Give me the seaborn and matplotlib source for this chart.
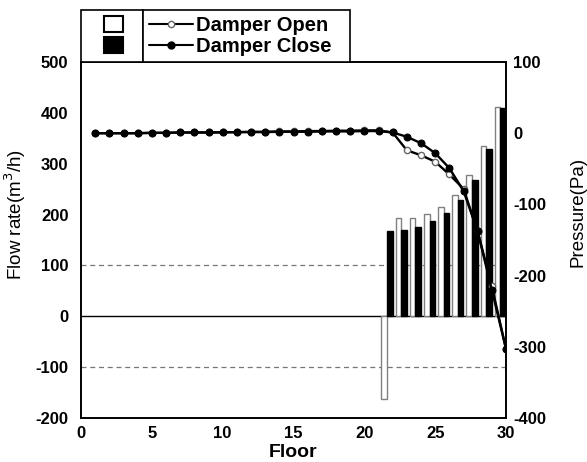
import numpy as np
import pandas as pd
import seaborn as sns
import matplotlib.pyplot as plt
from matplotlib.patches import Patch
from matplotlib.lines import Line2D

# pressure along all floors (right axis)
floors = list(range(1, 31))
p_open = [0, 0, 0, 0, 0.5, 0.5, 1, 1, 1, 1.5, 1.5, 2, 2, 2.5, 2.5, 3, 3, 3.5, 3.5, 4, 4,
          1, -24, -31, -40, -58, -78, -138, -215, -303]
p_close = [0, 0, 0, 0, 0.5, 0.5, 1, 1, 1, 1, 1.5, 1.5, 1.5, 2, 2, 2, 2.5, 2.5, 2.5, 3, 3,
           1, -5, -14, -28, -49, -81, -138, -220, -303]

# flow rate on upper floors (left axis)
bar_floors = [22, 23, 24, 25, 26, 27, 28, 29, 30]
q_open = [-163, 193, 193, 201, 215, 238, 278, 335, 412]
q_close = [167, 170, 176, 187, 203, 229, 268, 329, 410]

sns.set_style("white")
plt.rcParams['font.family'] = ['Liberation Sans', 'DejaVu Sans']
plt.rcParams['axes.unicode_minus'] = False
plt.rcParams.update({'text.color': 'black', 'axes.labelcolor': 'black',
                     'xtick.color': 'black', 'ytick.color': 'black'})

bars = pd.DataFrame({
    'pos': [f - 0.4 for f in bar_floors] * 2,
    'flow': q_open + q_close,
    'damper': ['Open'] * len(bar_floors) + ['Close'] * len(bar_floors),
})

fig = plt.figure(figsize=(5.87, 4.62), dpi=100)
ax = fig.add_axes([81 / 587, 1 - 418 / 462, 425 / 587, 356 / 462])

ax.axhline(0, color='black', lw=1, zorder=1)
for yv in (100, -100):
    ax.axhline(yv, color='#777777', lw=0.9, ls=(0, (4, 3)), zorder=1)

sns.barplot(data=bars, x='pos', y='flow', hue='damper', hue_order=['Open', 'Close'],
            palette={'Open': 'white', 'Close': 'black'}, native_scale=True, dodge=True,
            width=0.8, errorbar=None, legend=False, ax=ax, zorder=2)
for cont, ec in zip(ax.containers, ['#808080', 'black']):
    for p in cont:
        p.set_edgecolor(ec)
        p.set_linewidth(1.0)

ax.set_xlim(0, 30)
ax.set_ylim(-200, 500)
ax.set_xticks(range(0, 31, 5))
ax.set_yticks(range(-200, 501, 100))
ax.tick_params(length=0, labelsize=12)
ax.tick_params(axis='y', pad=9)
ax.tick_params(axis='x', pad=6)
for lab in ax.get_xticklabels() + ax.get_yticklabels():
    lab.set_fontweight('bold')
ax.set_xlabel('Floor', fontsize=14, fontweight='bold', labelpad=2)
ax.set_ylabel('Flow rate(m$^3$/h)', fontsize=13.5)
ax.yaxis.set_label_coords(-0.125, 0.57)
for s in ax.spines.values():
    s.set_color('black')
    s.set_linewidth(1.2)

ax2 = ax.twinx()
sns.lineplot(x=floors, y=p_open, color='black', lw=1.7, marker='o', markersize=4.5,
             markerfacecolor='white', markeredgecolor='#666666', markeredgewidth=1, ax=ax2)
sns.lineplot(x=floors, y=p_close, color='black', lw=1.7, marker='o', markersize=5,
             markerfacecolor='black', markeredgecolor='black', ax=ax2)
ax2.set_ylim(-400, 100)
ax2.set_yticks(range(-400, 101, 100))
ax2.tick_params(length=0, labelsize=12, pad=5)
for lab in ax2.get_yticklabels():
    lab.set_fontweight('bold')
ax2.set_ylabel('Pressure(Pa)', fontsize=13.5)
ax2.yaxis.set_label_coords(1.15, 0.58)
for s in ax2.spines.values():
    s.set_color('black')
    s.set_linewidth(1.2)

# legend: bar swatches box + line entries box
top = 1 - 62 / 462
legend_kw = dict(loc='lower left', mode='expand', borderaxespad=0, handleheight=0.8,
                 labelspacing=0.1, borderpad=0.3, fancybox=False, edgecolor='black',
                 framealpha=1, prop={'size': 14.5, 'weight': 'bold'})
bar_handles = [Patch(facecolor='white', edgecolor='black', lw=1.5),
               Patch(facecolor='black', edgecolor='black', lw=1.5)]
leg1 = fig.legend(bar_handles, ['', ''], bbox_to_anchor=(81 / 587, top, 62 / 587, 0.05),
                  markerfirst=False, handletextpad=0.85, handlelength=0.95, **legend_kw)
leg1.get_frame().set_linewidth(1.2)
line_handles = [Line2D([], [], color='black', lw=1.5, marker='o', markersize=4.5,
                       markerfacecolor='white', markeredgecolor='#666666'),
                Line2D([], [], color='black', lw=1.5, marker='o', markersize=5,
                       markerfacecolor='black')]
leg2 = fig.legend(line_handles, ['Damper Open', 'Damper Close'],
                  bbox_to_anchor=(143 / 587, top, 207 / 587, 0.05),
                  handletextpad=0.15, handlelength=2.2, **legend_kw)
leg2.get_frame().set_linewidth(1.2)

fig.savefig('out.png', dpi=100)
